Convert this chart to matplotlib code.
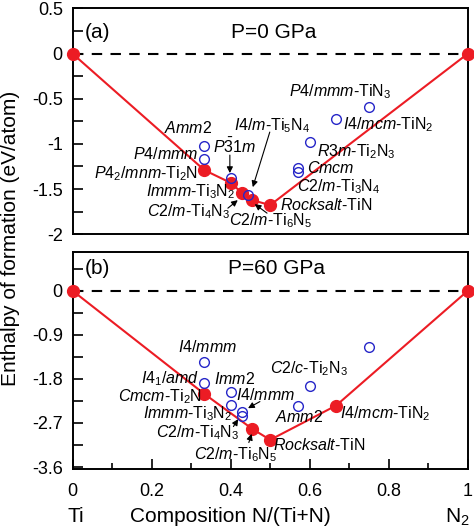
import matplotlib
matplotlib.use('Agg')
import matplotlib.pyplot as plt
from matplotlib.ticker import MultipleLocator

plt.rcParams['font.family'] = ['Liberation Sans', 'DejaVu Sans']
plt.rcParams['mathtext.fontset'] = 'custom'
plt.rcParams['mathtext.rm'] = 'Liberation Sans'
plt.rcParams['mathtext.it'] = 'Liberation Sans:italic'

# (a) P=0 GPa : convex hull and metastable phases
hull_x_a = [0, 1/3, 2/5, 3/7, 5/11, 1/2, 1]
hull_y_a = [0, -1.29, -1.431, -1.542, -1.623, -1.678, 0]
meta_x_a = [1/3, 1/3, 2/5, 4/9, 4/7, 4/7, 3/5, 2/3, 3/4]
meta_y_a = [-1.021, -1.172, -1.382, -1.568, -1.272, -1.309, -0.977, -0.728, -0.589]

# (b) P=60 GPa
hull_x_b = [0, 1/3, 5/11, 1/2, 2/3, 1]
hull_y_b = [0, -2.106, -2.82, -3.044, -2.345, 0]
meta_x_b = [1/3, 1/3, 2/5, 2/5, 3/7, 3/7, 4/7, 3/5, 3/4]
meta_y_b = [-1.447, -1.876, -2.059, -2.33, -2.467, -2.555, -2.345, -1.943, -1.154]

# labels: (text, x, y, ha)
labels_a = [
    (r'$\mathit{P4/mmm}$-TiN$_3$', 0.676, -0.426, 'center'),
    (r'$\mathit{I4/mcm}$-TiN$_2$', 0.684, -0.792, 'left'),
    (r'$\mathit{Amm2}$', 0.293, -0.825, 'center'),
    (r'$\mathit{P4/mmm}$', 0.236, -1.113, 'center'),
    (r'$\mathit{R3m}$-Ti$_2$N$_3$', 0.618, -1.091, 'left'),
    (r'$\mathit{Cmcm}$', 0.593, -1.268, 'left'),
    (r'$\mathit{P4_2/mnm}$-Ti$_2$N', 0.187, -1.335, 'center'),
    (r'$\mathit{C2/m}$-Ti$_3$N$_4$', 0.568, -1.479, 'left'),
    (r'$\mathit{Immm}$-Ti$_3$N$_2$', 0.30, -1.534, 'center'),
    (r'$\mathit{Rocksalt}$-TiN', 0.525, -1.679, 'left'),
]
# arrows: (text, text x, text y, tip x, tip y, tail x, tail y)
arrows_a = [
    (r'$\mathit{I4/m}$-Ti$_5$N$_4$', 0.506, -0.803, 0.456, -1.479, 0.499, -0.869),
    (r'$\mathit{P\bar{3}1m}$', 0.411, -1.024, 0.398, -1.323, 0.398, -1.124),
    (r'$\mathit{C2/m}$-Ti$_4$N$_3$', 0.293, -1.756, 0.418, -1.623, 0.393, -1.712),
    (r'$\mathit{C2/m}$-Ti$_6$N$_5$', 0.50, -1.845, 0.461, -1.667, 0.492, -1.767),
]
labels_b = [
    (r'$\mathit{I4/mmm}$', 0.341, -1.154, 'center'),
    (r'$\mathit{C2/c}$-Ti$_2$N$_3$', 0.598, -1.582, 'center'),
    (r'$\mathit{I4_1/amd}$', 0.247, -1.786, 'center'),
    (r'$\mathit{Imm2}$', 0.411, -1.80, 'center'),
    (r'$\mathit{Cmcm}$-Ti$_2$N', 0.221, -2.161, 'center'),
    (r'$\mathit{Immm}$-Ti$_3$N$_2$', 0.292, -2.514, 'center'),
    (r'$\mathit{Amm2}$', 0.574, -2.569, 'center'),
    (r'$\mathit{I4/mcm}$-TiN$_2$', 0.677, -2.514, 'left'),
    (r'$\mathit{Rocksalt}$-TiN', 0.507, -3.155, 'left'),
]
arrows_b = [
    (r'$\mathit{I4/mmm}$', 0.488, -2.126, 0.444, -2.398, 0.474, -2.263),
    (r'$\mathit{C2/m}$-Ti$_4$N$_3$', 0.316, -2.907, 0.419, -2.622, 0.407, -2.773),
    (r'$\mathit{C2/m}$-Ti$_6$N$_5$', 0.413, -3.35, 0.453, -2.922, 0.446, -3.099),
]

red = '#ec1c24'
blue = '#2626c8'

fig = plt.figure(figsize=(4.74, 5.31), dpi=100)
ax_a = fig.add_axes([0.153, 0.559, 0.834, 0.425])
ax_b = fig.add_axes([0.153, 0.1167, 0.834, 0.4087])


def draw_panel(ax, hx, hy, mx, my, labels, arrows):
    ax.axhline(0, color='k', lw=1.5, dashes=(5, 4), zorder=1)
    ax.plot(hx, hy, color=red, lw=1.5, zorder=2)
    ax.plot(hx, hy, 'o', color=red, ms=8.5, zorder=3, clip_on=False)
    ax.plot(mx, my, 'o', mfc='none', mec=blue, mew=1.0, ms=7, zorder=4)
    for t, x, y, ha in labels:
        ax.text(x, y, t, ha=ha, va='center', fontsize=11.5)
    for t, x, y, x1, y1, x0, y0 in arrows:
        ax.text(x, y, t, ha='center', va='center', fontsize=11.5)
        ax.annotate('', xy=(x1, y1), xytext=(x0, y0),
                    arrowprops=dict(arrowstyle='-|>', color='k', lw=0.8,
                                    mutation_scale=9, shrinkA=0, shrinkB=0))
    ax.set_xlim(0, 1)
    for s in ax.spines.values():
        s.set_linewidth(1.4)
    ax.tick_params(axis='y', which='both', direction='in', length=7, width=1.2,
                   labelsize=13, pad=7, right=False)


draw_panel(ax_a, hull_x_a, hull_y_a, meta_x_a, meta_y_a, labels_a, arrows_a)
draw_panel(ax_b, hull_x_b, hull_y_b, meta_x_b, meta_y_b, labels_b, arrows_b)

# panel (a) axes
ax_a.set_ylim(-2, 0.5)
ax_a.yaxis.set_major_locator(MultipleLocator(0.5))
ax_a.yaxis.set_minor_locator(MultipleLocator(0.25))
ax_a.set_yticks([0.5, 0, -0.5, -1, -1.5, -2])
ax_a.set_yticklabels(['0.5', '0', '-0.5', '-1', '-1.5', '-2'])
ax_a.tick_params(axis='x', which='both', bottom=False, labelbottom=False)
ax_a.text(0.032, 0.239, '(a)', fontsize=15, va='center')
ax_a.text(0.51, 0.239, 'P=0 GPa', fontsize=15, va='center', ha='center')

# panel (b) axes
ax_b.set_ylim(-3.64, 0.79)
ax_b.yaxis.set_minor_locator(MultipleLocator(0.45))
ax_b.set_yticks([0, -0.9, -1.8, -2.7, -3.6])
ax_b.set_yticklabels(['0', '-0.9', '-1.8', '-2.7', '-3.6'])
ax_b.xaxis.set_minor_locator(MultipleLocator(0.1))
ax_b.set_xticks([0, 0.2, 0.4, 0.6, 0.8, 1])
ax_b.set_xticklabels(['0', '0.2', '0.4', '0.6', '0.8', '1'])
ax_b.tick_params(axis='x', which='major', direction='in', length=7, width=1.2,
                 labelsize=13, pad=10, top=False)
ax_b.tick_params(axis='x', which='minor', direction='in', length=4, width=1.2,
                 top=False)
ax_b.text(0.032, 0.463, '(b)', fontsize=15, va='center')
ax_b.text(0.516, 0.463, 'P=60 GPa', fontsize=15, va='center', ha='center')

# second row under the x tick labels
ax_b.text(0.008, -0.221, 'Ti', transform=ax_b.transAxes, fontsize=15,
          ha='center', va='center')
ax_b.text(0.974, -0.221, 'N$_2$', transform=ax_b.transAxes, fontsize=15,
          ha='center', va='center')
ax_b.text(0.399, -0.221, 'Composition N/(Ti+N)', transform=ax_b.transAxes,
          fontsize=15, ha='center', va='center')

fig.text(0.022, 0.552, 'Enthalpy of formation (eV/atom)', rotation=90,
         fontsize=15, ha='center', va='center')

fig.savefig('out.png', dpi=100)
